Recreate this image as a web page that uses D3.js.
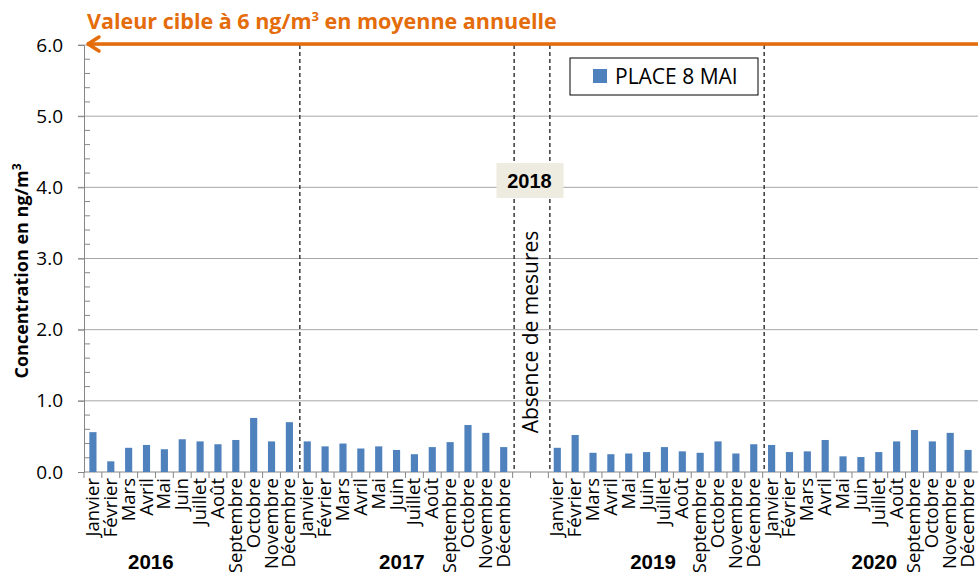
<!DOCTYPE html>
<html>
<head>
	<meta charset="utf-8">
	<title>PLACE 8 MAI</title>
	<script src="https://cdn.jsdelivr.net/npm/d3@7/dist/d3.min.js"></script>
	<style>
		body { margin: 0; background: #fff; }
		text { font-family: "Open Sans", "Noto Sans", sans-serif; }
	</style>
</head>
<body>
<div id="content"></div>

<script type="text/javascript">
	var months = ['Janvier', 'Février', 'Mars', 'Avril', 'Mai', 'Juin', 'Juillet', 'Août',
		'Septembre', 'Octobre', 'Novembre', 'Décembre'];
	var years = ['2016', '2017', '2019', '2020'];
	var v2016 = [0.56, 0.15, 0.34, 0.38, 0.32, 0.46, 0.43, 0.39, 0.45, 0.76, 0.43, 0.70];
	var v2017 = [0.43, 0.36, 0.40, 0.33, 0.36, 0.31, 0.25, 0.35, 0.42, 0.66, 0.55, 0.35];
	var v2019 = [0.34, 0.52, 0.27, 0.25, 0.26, 0.28, 0.35, 0.29, 0.27, 0.43, 0.26, 0.39];
	var v2020 = [0.38, 0.28, 0.29, 0.45, 0.22, 0.21, 0.28, 0.43, 0.59, 0.43, 0.55, 0.31];
	var yTicks = [0, 1, 2, 3, 4, 5, 6];
	var target = 6;
	var seriesName = 'PLACE 8 MAI';

	// slots: 2016, 2017, two empty slots for 2018, 2019, 2020
	var slots = [];
	var series = [v2016, v2017, v2019, v2020];
	years.forEach(function (y, i) {
		if (y === '2019') { slots.push({ key: '2018-a', gap: true }); slots.push({ key: '2018-b', gap: true }); }
		months.forEach(function (m, j) {
			slots.push({ key: y + '-' + j, year: y, month: m, value: series[i][j] });
		});
	});

	var W = 978, H = 572;
	var x0 = 84, x1 = 977, yTop = 45, yBot = 472;
	var orange = '#e46c0a';

	var svg = d3.select('#content').append('svg')
		.attr('width', W)
		.attr('height', H);

	var x = d3.scaleBand()
		.domain(slots.map(d => d.key))
		.range([x0, x1])
		.paddingInner(0.6)
		.paddingOuter(0.3);
	var step = x.step();

	var y = d3.scaleLinear().domain([0, 6]).range([yBot, yTop]);

	// gridlines
	svg.append('g').selectAll('line')
		.data(yTicks.slice(1))
		.join('line')
		.attr('x1', x0 - 6).attr('x2', W)
		.attr('y1', d => y(d)).attr('y2', d => y(d))
		.attr('stroke', '#a6a6a6').attr('stroke-width', 1);

	// y axis
	var yAxis = svg.append('g')
		.attr('transform', 'translate(' + x0 + ',0)')
		.call(d3.axisLeft(y).tickValues(yTicks).tickFormat(d3.format('.1f')).tickSize(6).tickPadding(15));
	yAxis.select('.domain').attr('stroke', '#868686');
	yAxis.selectAll('.tick line').attr('stroke', '#868686');
	yAxis.selectAll('.tick text').attr('font-size', 19).attr('fill', '#000')
		.style('font-family', '"Open Sans", sans-serif');

	// minor ticks inside
	svg.append('g').selectAll('line')
		.data(d3.range(0, 6.01, 0.2).filter(d => Math.abs(d - Math.round(d)) > 0.01))
		.join('line')
		.attr('x1', x0).attr('x2', x0 + 6)
		.attr('y1', d => y(d)).attr('y2', d => y(d))
		.attr('stroke', '#868686');

	// x axis baseline + ticks at slot boundaries
	svg.append('line')
		.attr('x1', x0).attr('x2', W)
		.attr('y1', yBot).attr('y2', yBot)
		.attr('stroke', '#868686');
	svg.append('g').selectAll('line')
		.data(slots)
		.join('line')
		.attr('x1', d => x(d.key) - step * 0.3).attr('x2', d => x(d.key) - step * 0.3)
		.attr('y1', yBot).attr('y2', yBot + 6)
		.attr('stroke', '#868686');

	// bars
	var bars = slots.filter(d => !d.gap);
	svg.append('g').selectAll('rect')
		.data(bars)
		.join('rect')
		.attr('x', d => x(d.key))
		.attr('width', x.bandwidth())
		.attr('y', d => y(d.value))
		.attr('height', d => yBot - y(d.value))
		.attr('fill', '#4f81bd');

	// month labels
	svg.append('g').selectAll('text')
		.data(bars)
		.join('text')
		.attr('transform', d => 'translate(' + (x(d.key) + x.bandwidth() / 2 + 6) + ',' + (yBot + 6) + ') rotate(-90)')
		.attr('text-anchor', 'end')
		.attr('font-size', 18.5)
		.text(d => d.month);

	// year labels (position within the year's 12 slots)
	var yearPos = { '2016': 3.24, '2017': 5.3, '2019': 5.36, '2020': 5.75 };
	svg.append('g').selectAll('text')
		.data(years)
		.join('text')
		.attr('x', d => x(d + '-0') + x.bandwidth() / 2 + yearPos[d] * step)
		.attr('y', 569)
		.attr('text-anchor', 'middle')
		.attr('font-size', 20.5)
		.attr('font-weight', 'bold')
		.style('font-family', '"Liberation Sans", Arial, sans-serif')
		.text(d => d);

	// dashed year separators
	var seps = ['2017-0', '2018-a', '2019-0', '2020-0'];
	svg.append('g').selectAll('line')
		.data(seps)
		.join('line')
		.attr('x1', d => x(d) - step * 0.3 + 1.5).attr('x2', d => x(d) - step * 0.3 + 1.5)
		.attr('y1', yTop).attr('y2', yBot)
		.attr('stroke', '#3a3a3a').attr('stroke-width', 1.5)
		.attr('stroke-dasharray', '4,3');

	// 2018 gap annotations
	var gapMid = (x('2018-a') + x('2018-b') + x.bandwidth()) / 2;
	svg.append('rect')
		.attr('x', gapMid - 34).attr('y', 163)
		.attr('width', 67).attr('height', 35)
		.attr('fill', '#eeece1');
	svg.append('text')
		.attr('x', gapMid - 1).attr('y', 188)
		.attr('text-anchor', 'middle')
		.attr('font-size', 20).attr('font-weight', 'bold')
		.style('font-family', '"Liberation Sans", Arial, sans-serif')
		.text('2018');
	svg.append('text')
		.attr('transform', 'translate(' + (gapMid + 7) + ',332) rotate(-90)')
		.attr('text-anchor', 'middle')
		.attr('font-size', 21)
		.text('Absence de mesures');

	// target arrow line
	var ty = y(target) - 1;
	svg.append('line')
		.attr('x1', W).attr('x2', x0 + 3)
		.attr('y1', ty).attr('y2', ty)
		.attr('stroke', orange).attr('stroke-width', 3.5);
	svg.append('path')
		.attr('d', 'M' + (x0 + 15) + ',' + (ty - 7) + ' L' + (x0 + 4) + ',' + ty + ' L' + (x0 + 15) + ',' + (ty + 7))
		.attr('fill', 'none')
		.attr('stroke', orange).attr('stroke-width', 3.5)
		.attr('stroke-linecap', 'round').attr('stroke-linejoin', 'round');
	var title = svg.append('text')
		.attr('x', 87).attr('y', 29)
		.attr('font-size', 21.5).attr('font-weight', 'bold')
		.attr('fill', orange)
		.text('Valeur cible à ' + target + ' ng/m');
	title.append('tspan').attr('font-size', 13).attr('dy', -8).text('3');
	title.append('tspan').attr('dy', 8).text(' en moyenne annuelle');

	// y axis title
	var yt = svg.append('text')
		.attr('transform', 'translate(28,271) rotate(-90)')
		.attr('text-anchor', 'middle')
		.attr('font-size', 18).attr('font-weight', 'bold')
		.text('Concentration en ng/m');
	yt.append('tspan').attr('font-size', 12).attr('dy', -7).text('3');

	// legend
	var lg = svg.append('g').attr('transform', 'translate(570,58)');
	lg.append('rect')
		.attr('width', 188).attr('height', 37)
		.attr('fill', '#fff').attr('stroke', '#000').attr('stroke-width', 1);
	lg.append('rect')
		.attr('x', 23).attr('y', 11).attr('width', 14).attr('height', 14)
		.attr('fill', '#4f81bd');
	lg.append('text')
		.attr('x', 45).attr('y', 26)
		.attr('font-size', 21)
		.text(seriesName);
</script>
</body>
</html>
